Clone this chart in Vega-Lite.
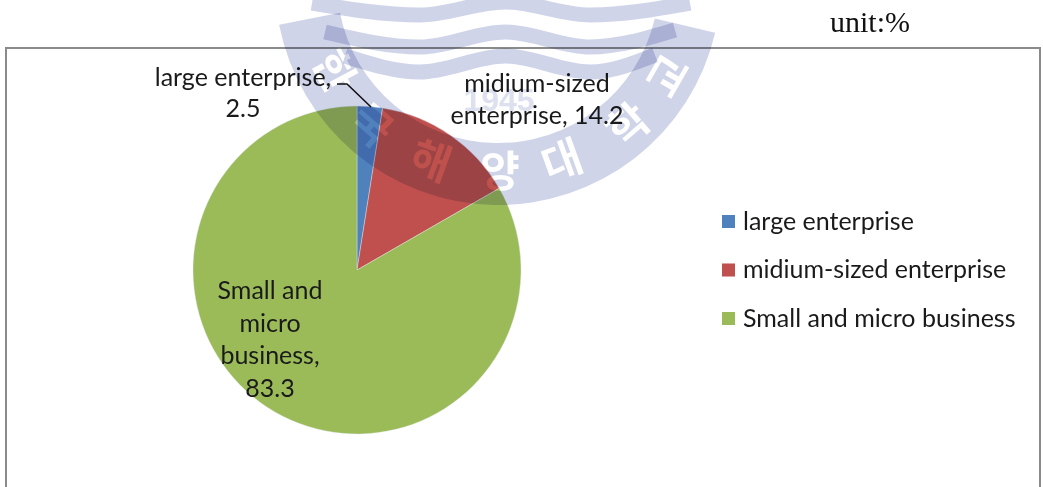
{"$schema":"https://vega.github.io/schema/vega-lite/v6.json","width":1034,"height":445,"autosize":{"type":"none"},"padding":{"left":6,"top":48,"right":3,"bottom":0},"background":"white","config":{"view":{"stroke":"#8a8a8a","strokeWidth":2},"axis":{"disable":true}},"datasets":{"pie":[{"category":"large enterprise","share":2.5,"rank":1,"label":"large enterprise,\n2.5"},{"category":"midium-sized enterprise","share":14.2,"rank":2,"label":"midium-sized\nenterprise, 14.2"},{"category":"Small and micro business","share":83.3,"rank":3,"label":"Small and\nmicro\nbusiness,\n83.3"}],"waves":[{"band":"a","px":312,"py":3},{"band":"a","px":420,"py":15},{"band":"a","px":505,"py":2},{"band":"a","px":590,"py":15},{"band":"a","px":690,"py":3},{"band":"b","px":325,"py":32},{"band":"b","px":420,"py":47},{"band":"b","px":505,"py":32},{"band":"b","px":590,"py":47},{"band":"b","px":675,"py":30},{"band":"c","px":345,"py":56},{"band":"c","px":420,"py":72},{"band":"c","px":505,"py":56},{"band":"c","px":590,"py":72},{"band":"c","px":655,"py":55}],"leader":[{"px":337,"py":84},{"px":347,"py":84},{"px":371,"py":107}],"seal":[{"ch":"한","px":332,"py":72,"tilt":62},{"ch":"국","px":370,"py":127,"tilt":41},{"ch":"해","px":430,"py":163,"tilt":20},{"ch":"양","px":500,"py":174,"tilt":0},{"ch":"대","px":563,"py":163,"tilt":-20},{"ch":"학","px":630,"py":127,"tilt":-41},{"ch":"교","px":670,"py":77,"tilt":-60}]},"layer":[{"data":{"name":"pie"},"mark":{"type":"arc","outerRadius":164,"stroke":"#e6ecf2","strokeWidth":0.4},"encoding":{"x":{"datum":357,"type":"quantitative","scale":{"domain":[6,1040]}},"y":{"datum":270,"type":"quantitative","scale":{"domain":[493,48]}},"theta":{"field":"share","type":"quantitative","stack":true},"order":{"field":"rank","type":"quantitative"},"color":{"field":"category","type":"nominal","scale":{"domain":["large enterprise","midium-sized enterprise","Small and micro business"],"range":["#4f81bd","#c0504d","#9bbb59"]},"legend":{"title":null,"orient":"none","legendX":710,"legendY":161,"symbolType":"square","symbolSize":170,"symbolStrokeWidth":0,"symbolOpacity":1,"labelFont":"Lato","labelFontSize":25,"labelColor":"#1a1a1a","labelLimit":400,"rowPadding":22.5,"labelOffset":2,"symbolOffset":0}}}},{"data":{"name":"pie"},"transform":[{"filter":"datum.rank==1"}],"mark":{"type":"text","font":"Lato","fontSize":25,"color":"#1a1a1a","lineBreak":"\n","lineHeight":31,"align":"center","baseline":"middle"},"encoding":{"x":{"datum":243,"type":"quantitative","scale":{"domain":[6,1040]}},"y":{"datum":78,"type":"quantitative","scale":{"domain":[493,48]}},"text":{"field":"label"}}},{"data":{"name":"pie"},"transform":[{"filter":"datum.rank==2"}],"mark":{"type":"text","font":"Lato","fontSize":25,"color":"#1a1a1a","lineBreak":"\n","lineHeight":32,"align":"center","baseline":"middle"},"encoding":{"x":{"datum":537,"type":"quantitative","scale":{"domain":[6,1040]}},"y":{"datum":84,"type":"quantitative","scale":{"domain":[493,48]}},"text":{"field":"label"}}},{"data":{"name":"pie"},"transform":[{"filter":"datum.rank==3"}],"mark":{"type":"text","font":"Lato","fontSize":25,"color":"#1a1a1a","lineBreak":"\n","lineHeight":32.7,"align":"center","baseline":"middle"},"encoding":{"x":{"datum":270,"type":"quantitative","scale":{"domain":[6,1040]}},"y":{"datum":291,"type":"quantitative","scale":{"domain":[493,48]}},"text":{"field":"label"}}},{"data":{"name":"leader"},"mark":{"type":"line","color":"#111111","strokeWidth":1.5},"encoding":{"x":{"field":"px","type":"quantitative","scale":{"domain":[6,1040]}},"y":{"field":"py","type":"quantitative","scale":{"domain":[493,48]}}}},{"data":{"values":[{"text":"unit:%"}]},"mark":{"type":"text","font":"Liberation Serif","fontSize":30,"color":"#111111","align":"center","baseline":"middle"},"encoding":{"x":{"datum":870,"type":"quantitative","scale":{"domain":[6,1040]}},"y":{"datum":23,"type":"quantitative","scale":{"domain":[493,48]}},"text":{"field":"text"}}},{"data":{"values":[{"part":"ring"}]},"mark":{"type":"arc","theta":1.8,"theta2":4.52,"radius":223,"radius2":161,"fill":"#d0d4e8","blend":"multiply"},"encoding":{"x":{"datum":498,"type":"quantitative","scale":{"domain":[6,1040]}},"y":{"datum":-18,"type":"quantitative","scale":{"domain":[493,48]}}}},{"data":{"name":"waves"},"mark":{"type":"line","color":"#d0d4e8","strokeWidth":15,"interpolate":"monotone","blend":"multiply"},"encoding":{"x":{"field":"px","type":"quantitative","scale":{"domain":[6,1040]}},"y":{"field":"py","type":"quantitative","scale":{"domain":[493,48]}},"detail":{"field":"band"}}},{"data":{"values":[{"year":"1945"}]},"mark":{"type":"text","font":"Liberation Sans","fontWeight":"bold","fontSize":32,"color":"#dde0ee","blend":"multiply","align":"center","baseline":"middle"},"encoding":{"x":{"datum":499,"type":"quantitative","scale":{"domain":[6,1040]}},"y":{"datum":101,"type":"quantitative","scale":{"domain":[493,48]}},"text":{"field":"year"}}},{"data":{"name":"seal"},"mark":{"type":"text","font":"Noto Sans CJK KR","fontWeight":"bold","fontSize":43,"color":"#2f2b17","blend":"color-dodge","align":"center","baseline":"middle"},"encoding":{"x":{"field":"px","type":"quantitative","scale":{"domain":[6,1040]}},"y":{"field":"py","type":"quantitative","scale":{"domain":[493,48]}},"angle":{"field":"tilt","type":"quantitative","scale":null},"text":{"field":"ch"}}}]}
